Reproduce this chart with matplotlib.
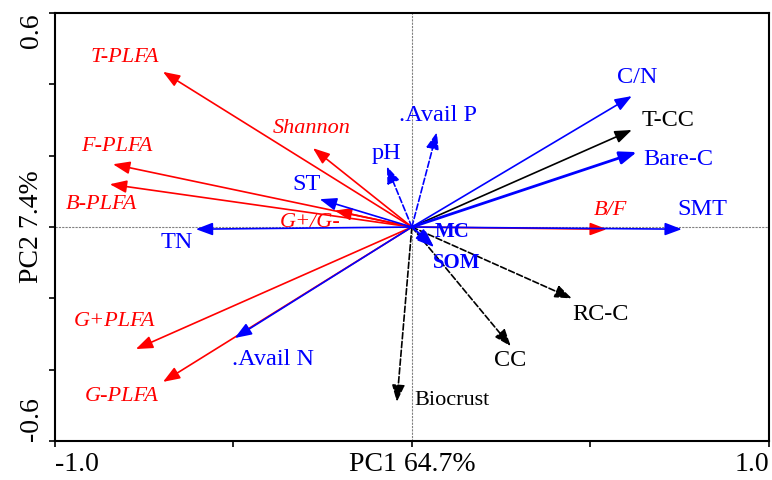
import matplotlib
matplotlib.use('Agg')
import matplotlib.pyplot as plt

plt.rcParams['font.family'] = ['Liberation Serif', 'DejaVu Serif']

# loadings (PC1, PC2)
microbes = ['T-PLFA', 'Shannon', 'F-PLFA', 'B-PLFA', 'G+/G-', 'G+PLFA', 'G-PLFA', 'B/F']
microbe_pc1 = [-0.697, -0.277, -0.837, -0.846, -0.216, -0.773, -0.697, 0.546]
microbe_pc2 = [0.435, 0.221, 0.176, 0.120, 0.046, -0.342, -0.434, -0.006]

soil = ['ST', 'TN', 'pH', '.Avail P', 'C/N', 'Bare-C', 'SMT', 'MC', 'SOM', '.Avail N']
soil_pc1 = [-0.258, -0.605, -0.070, 0.070, 0.616, 0.630, 0.756, 0.058, 0.062, -0.496]
soil_pc2 = [0.078, -0.006, 0.170, 0.266, 0.367, 0.210, -0.006, -0.050, -0.056, -0.311]

cover = ['T-CC', 'RC-C', 'CC', 'Biocrust']
cover_pc1 = [0.616, 0.448, 0.277, -0.042]
cover_pc2 = [0.272, -0.200, -0.334, -0.490]

# label positions
label_pos = {
    'T-PLFA': (-0.804, 0.474), 'Shannon': (-0.28, 0.275), 'F-PLFA': (-0.826, 0.227),
    'B-PLFA': (-0.868, 0.064), 'G+/G-': (-0.286, 0.012), 'G+PLFA': (-0.832, -0.266),
    'G-PLFA': (-0.812, -0.474), 'B/F': (0.555, 0.045),
    'ST': (-0.294, 0.118), 'TN': (-0.658, -0.042), 'pH': (-0.07, 0.207),
    '.Avail P': (0.073, 0.314), 'C/N': (0.63, 0.42), 'Bare-C': (0.745, 0.19),
    'SMT': (0.815, 0.048), 'MC': (0.112, -0.014), 'SOM': (0.126, -0.100),
    '.Avail N': (-0.389, -0.37),
    'T-CC': (0.717, 0.30), 'RC-C': (0.527, -0.244), 'CC': (0.275, -0.373),
    'Biocrust': (0.112, -0.485),
}
dashed = ['pH', '.Avail P', 'RC-C', 'CC', 'Biocrust']
thick = ['Bare-C']
bold = ['MC', 'SOM']


def draw_arrow(ax, name, x, y, color, fontsize, style='normal', weight='normal'):
    ls = '--' if name in dashed else '-'
    lw = 2.0 if name in thick else 1.2
    ax.annotate('', xy=(x, y), xytext=(0, 0),
                arrowprops=dict(arrowstyle='-|>,head_length=0.85,head_width=0.32',
                                color=color, lw=lw, linestyle=ls,
                                mutation_scale=12, shrinkA=0, shrinkB=0))
    tx, ty = label_pos[name]
    ax.text(tx, ty, name, color=color, fontsize=fontsize, style=style,
            weight=weight, ha='center', va='center')


fig, ax = plt.subplots(figsize=(7.72, 4.8), dpi=100)
fig.subplots_adjust(left=0.071, right=0.996, top=0.973, bottom=0.081)

ax.axhline(0, color='gray', lw=0.8, ls=(0, (2, 1)), zorder=0)
ax.axvline(0, color='gray', lw=0.8, ls=(0, (2, 1)), zorder=0)

for name, x, y in zip(microbes, microbe_pc1, microbe_pc2):
    draw_arrow(ax, name, x, y, 'red', 16, style='italic')
for name, x, y in zip(cover, cover_pc1, cover_pc2):
    size = 16 if name == 'Biocrust' else 17.5
    draw_arrow(ax, name, x, y, 'black', size)
for name, x, y in zip(soil, soil_pc1, soil_pc2):
    if name in bold:
        draw_arrow(ax, name, x, y, 'blue', 15, weight='bold')
    else:
        draw_arrow(ax, name, x, y, 'blue', 17.5)

ax.set_xlim(-1, 1)
ax.set_ylim(-0.6, 0.6)
ax.set_xticks([-1, -0.5, 0, 0.5, 1])
ax.set_xticklabels(['-1.0', '', 'PC1 64.7%', '', '1.0'], fontsize=20)
ax.set_yticks([-0.6, -0.4, -0.2, 0, 0.2, 0.4, 0.6])
ax.set_yticklabels(['-0.6', '', '', 'PC2 7.4%', '', '', '0.6'], fontsize=20,
                   rotation=90)
xl = ax.get_xticklabels()
xl[0].set_ha('left')
xl[-1].set_ha('right')
yl = ax.get_yticklabels()
for t in yl:
    t.set_va('center')
yl[0].set_va('bottom')
yl[-1].set_va('top')
ax.tick_params(direction='out', length=4, width=1.2, pad=4)
for s in ax.spines.values():
    s.set_linewidth(1.5)

fig.savefig('out.png', dpi=100)
